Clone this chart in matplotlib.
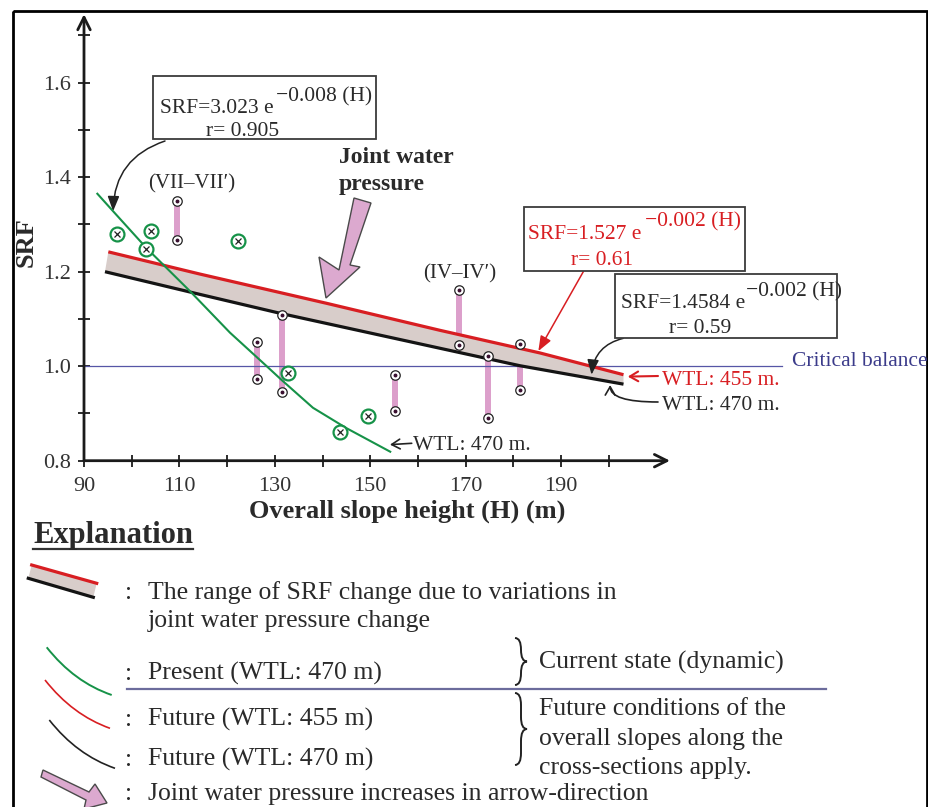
import numpy as np
import matplotlib.pyplot as plt
from matplotlib.patches import Rectangle, Polygon, PathPatch
from matplotlib.path import Path
from matplotlib.transforms import Affine2D
from matplotlib.lines import Line2D

W, H = 929, 807

# present state regression curve (WTL 470 m), SRF
present_fit_h = [92.8, 96.1, 103.1, 112.2, 120.6, 128.3, 131.3, 138.0, 145.0, 154.2]
present_fit_srf = [1.365, 1.328, 1.250, 1.159, 1.071, 1.000, 0.972, 0.912, 0.869, 0.819]

# future curves: WTL 455 m (upper) and WTL 470 m (lower)
future455_h = [95.1, 114.3, 140.9, 164.6, 185.6, 203.1]
future455_srf = [1.242, 1.195, 1.133, 1.076, 1.028, 0.982]
future470_h = [94.4, 114.3, 131.1, 164.6, 181.4, 203.1]
future470_srf = [1.200, 1.152, 1.112, 1.038, 1.001, 0.962]

# present state sections
present_h = [96.9, 103.1, 104.1, 122.2, 132.7, 143.7, 149.6]
present_srf = [1.279, 1.247, 1.286, 1.266, 0.986, 0.860, 0.894]

# future sections: SRF for both water table levels
pair_h = [109.4, 126.2, 131.6, 155.2, 168.7, 174.6, 181.3]
pair_top = [1.349, 1.051, 1.108, 0.981, 1.162, 1.021, 1.047]
pair_bot = [1.267, 0.972, 0.946, 0.905, 1.044, 0.891, 0.950]

x_ticks = list(range(90, 201, 10))
y_ticks = [0.8, 0.9, 1.0, 1.1, 1.2, 1.3, 1.4, 1.5, 1.6, 1.7]

TXT = '#2a2a2a'
RED = '#d81e22'
GREEN = '#169248'
PINK = '#dc9fcb'

plt.rcParams['font.family'] = ['Liberation Serif', 'DejaVu Serif']

fig = plt.figure(figsize=(W / 100, H / 100), dpi=100)
# image-pixel coordinates (origin top-left) for layout items
pix = Affine2D().scale(1 / W, -1 / H).translate(0, 1) + fig.transFigure

x0_px, y0_px = 84, 460.7
px_h, px_srf = 4.77, 472.5
xlim, ylim = (90, 215), (0.8, 1.75)
ax = fig.add_axes([x0_px / W, 1 - y0_px / H,
                   (xlim[1] - xlim[0]) * px_h / W,
                   (ylim[1] - ylim[0]) * px_srf / H])
ax.set_xlim(*xlim)
ax.set_ylim(*ylim)
ax.patch.set_visible(False)
for s in ax.spines.values():
    s.set_visible(False)

# axes with arrow heads
arr = dict(arrowstyle='->,head_length=0.9,head_width=0.45', lw=2, color='#1a1a1a',
           shrinkA=0, shrinkB=0)
ax.annotate('', xy=(212.85, 0.8), xytext=(90, 0.8), arrowprops=arr, annotation_clip=False)
ax.annotate('', xy=(90, 1.745), xytext=(90, 0.8), arrowprops=arr, annotation_clip=False)

ax.set_xticks(x_ticks)
ax.set_xticklabels([str(v) if (v - 90) % 20 == 0 else '' for v in x_ticks])
ax.set_yticks(y_ticks)
ax.set_yticklabels(['%.1f' % v if round(v * 10) % 2 == 0 else '' for v in y_ticks])
ax.tick_params(direction='inout', length=9, width=1.3, color='#1a1a1a',
               labelsize=16, labelcolor='#333333')
ax.tick_params(axis='x', pad=7)
ax.tick_params(axis='y', pad=5)

ax.set_xlabel('Overall slope height (H) (m)', fontsize=19, fontweight='bold', color=TXT)
ax.xaxis.set_label_coords((407 - x0_px) / ((xlim[1] - xlim[0]) * px_h), (y0_px - 500) / ((ylim[1] - ylim[0]) * px_srf))
ax.set_ylabel('SRF', fontsize=19, fontweight='bold', color=TXT)
ax.yaxis.set_label_coords((38 - x0_px) / ((xlim[1] - xlim[0]) * px_h), (y0_px - 242) / ((ylim[1] - ylim[0]) * px_srf))

# critical balance
ax.plot([90, 236.3], [1.0, 1.0], color='#5656a6', lw=0.9, clip_on=False, zorder=2)

# pink ranges between the two future states
ax.vlines(pair_h, pair_bot, pair_top, colors=PINK, lw=4.3, zorder=1)

# band of SRF change
band_x = future455_h + future470_h[::-1]
band_y = future455_srf + future470_srf[::-1]
ax.fill(band_x, band_y, color='#d8cdca', lw=0, zorder=2)
ax.plot(future455_h, future455_srf, color=RED, lw=2.3, zorder=3, solid_capstyle='butt')
ax.plot(future470_h, future470_srf, color='#141414', lw=2.3, zorder=3, solid_capstyle='butt')

ax.plot(present_fit_h, present_fit_srf, color=GREEN, lw=1.5, zorder=4)

for ys in (pair_top, pair_bot):
    ax.plot(pair_h, ys, 'o', ms=6.8, mfc='white', mec='#222222', mew=0.9, zorder=5)
    ax.plot(pair_h, ys, 'o', ms=1.8, color='#3a1030', zorder=6)

ax.plot(present_h, present_srf, 'o', ms=10, mfc='white', mec=GREEN, mew=1.6, zorder=5)
ax.plot(present_h, present_srf, 'x', ms=4, color='#222222', mew=0.9, zorder=6)


def ftext(x, y, s, **kw):
    kw.setdefault('color', TXT)
    kw.setdefault('va', 'baseline')
    fig.text(x, y, s, transform=pix, **kw)


# equation boxes
for (bx, by, bw, bh) in [(153, 76, 223, 63), (524, 207, 221, 64), (615, 274, 222, 64)]:
    fig.add_artist(Rectangle((bx, by), bw, bh, transform=pix, fc='white', ec='#3c3c3c', lw=1.3))

ftext(160, 113, 'SRF=3.023 e', fontsize=15.5)
ftext(276, 101, '\u22120.008 (H)', fontsize=15.5)
ftext(243, 136, 'r= 0.905', fontsize=15.5, ha='center')

ftext(528, 239, 'SRF=1.527 e', fontsize=15.5, color=RED)
ftext(645, 226, '\u22120.002 (H)', fontsize=15.5, color=RED)
ftext(602, 265, 'r= 0.61', fontsize=15.5, color=RED, ha='center')

ftext(621, 308, 'SRF=1.4584 e', fontsize=15.5)
ftext(746, 296, '\u22120.002 (H)', fontsize=15.5)
ftext(700, 333, 'r= 0.59', fontsize=15.5, ha='center')

ftext(792, 366, 'Critical balance', fontsize=15.5, color='#3b3b8a')
ftext(662, 385, 'WTL: 455 m.', fontsize=15.5, color=RED)
ftext(662, 410, 'WTL: 470 m.', fontsize=15.5)
ftext(413, 450, 'WTL: 470 m.', fontsize=15.5)
ftext(148, 188, '(VII\u2013VII\u2032)', fontsize=15)
ftext(423, 278, '(IV\u2013IV\u2032)', fontsize=15)
ftext(339, 163, 'Joint water', fontsize=17, fontweight='bold')
ftext(339, 190, 'pressure', fontsize=17, fontweight='bold')

# leader arrows
filled = '-|>,head_length=0.9,head_width=0.35'
ax.annotate('', xy=(96.1, 1.328), xytext=(165, 141), textcoords=pix,
            arrowprops=dict(arrowstyle=filled, connectionstyle='arc3,rad=0.35',
                            color='#222222', lw=1.1, shrinkA=0, shrinkB=0))
ax.annotate('', xy=(185.25, 1.032), xytext=(583.3, 271.7), textcoords=pix,
            arrowprops=dict(arrowstyle=filled, color=RED, lw=1.1, shrinkA=0, shrinkB=0))
ax.annotate('', xy=(196.4, 0.982), xytext=(623.3, 338.3), textcoords=pix,
            arrowprops=dict(arrowstyle=filled, connectionstyle='arc3,rad=0.35',
                            color='#222222', lw=1.1, shrinkA=0, shrinkB=0))
opn = '->,head_length=0.6,head_width=0.35'
ax.annotate('', xy=(204.0, 0.978), xytext=(658, 376), textcoords=pix,
            arrowprops=dict(arrowstyle=opn, color=RED, lw=1.5, shrinkA=0, shrinkB=0))
ax.annotate('', xy=(200.3, 0.960), xytext=(658, 402), textcoords=pix,
            arrowprops=dict(arrowstyle=opn, connectionstyle='angle3,angleA=0,angleB=90',
                            color='#222222', lw=1.2, shrinkA=0, shrinkB=0))
ax.annotate('', xy=(154.15, 0.834), xytext=(411.7, 443.3), textcoords=pix,
            arrowprops=dict(arrowstyle=opn, color='#222222', lw=1.2, shrinkA=0, shrinkB=0))

# joint water pressure arrow
fig.add_artist(Polygon([(354, 198), (371, 203), (350, 265), (360, 267), (326, 298),
                        (319, 257), (339, 270)], closed=True, transform=pix,
                       fc='#dca9cf', ec='#4a4a4a', lw=1.0))

# explanation
ftext(33, 543, 'Explanation', fontsize=22, fontweight='bold')
fig.add_artist(Line2D([33, 193], [549, 549], transform=pix, color='#333333', lw=1.6))

fig.add_artist(Polygon([(31.7, 565), (96.7, 583.3), (93.3, 597.3), (28.3, 578.3)],
                       transform=pix, fc='#d8cdca', lw=0))
fig.add_artist(Line2D([31.7, 96.7], [565, 583.3], transform=pix, color=RED, lw=2.3))
fig.add_artist(Line2D([28.3, 93.3], [578.3, 597.3], transform=pix, color='#141414', lw=2.3))


def swatch(p0, c, p2, color, lw):
    path = Path([p0, c, p2], [Path.MOVETO, Path.CURVE3, Path.CURVE3])
    fig.add_artist(PathPatch(path, transform=pix, fill=False, ec=color, lw=lw))


swatch((46.7, 647.3), (74.2, 682.2), (111.7, 695), GREEN, 1.4)
swatch((45, 680), (72.5, 715), (110, 728.3), RED, 1.2)
swatch((49.3, 720), (76.8, 755), (115, 768.3), '#222222', 1.2)

fig.add_artist(Polygon([(43, 770), (89, 792), (95, 784), (107, 803), (84, 809), (86, 800),
                        (41, 777)], closed=True, transform=pix,
                       fc='#dca9cf', ec='#4a4a4a', lw=1.0))

LF = 18.5
for yb in (599, 680, 726, 766, 800):
    ftext(125, yb, ':', fontsize=LF)
ftext(148, 599, 'The range of SRF change due to variations in', fontsize=LF)
ftext(148, 627, 'joint water pressure change', fontsize=LF)
ftext(148, 680, 'Present (WTL: 470 m)', fontsize=LF)
ftext(148, 726, 'Future (WTL: 455 m)', fontsize=LF)
ftext(148, 766, 'Future (WTL: 470 m)', fontsize=LF)
ftext(148, 800, 'Joint water pressure increases in arrow-direction', fontsize=LF)

fig.add_artist(Line2D([127.5, 826], [689, 689], transform=pix, color='#6c6c9c', lw=1.6))


def brace(x, y0, y1, w):
    ym = (y0 + y1) / 2
    r = min(w, (y1 - y0) / 4)
    xm = x + w / 2
    verts = [(x, y0), (xm, y0), (xm, y0 + r), (xm, ym - r), (xm, ym), (x + w, ym),
             (xm, ym), (xm, ym + r), (xm, y1 - r), (xm, y1), (x, y1)]
    codes = [Path.MOVETO, Path.CURVE3, Path.CURVE3, Path.LINETO, Path.CURVE3, Path.CURVE3,
             Path.CURVE3, Path.CURVE3, Path.LINETO, Path.CURVE3, Path.CURVE3]
    fig.add_artist(PathPatch(Path(verts, codes), transform=pix, fill=False, ec='#222222', lw=1.4))


brace(515, 638, 685, 12)
brace(515, 693, 765, 12)
ftext(539, 669, 'Current state (dynamic)', fontsize=LF)
ftext(539, 715, 'Future conditions of the', fontsize=LF)
ftext(539, 745, 'overall slopes along the', fontsize=LF)
ftext(539, 774, 'cross-sections apply.', fontsize=LF)

# outer frame
fig.add_artist(Rectangle((13, 11), 914, 820, transform=pix, fill=False, ec='black', lw=2.0))

fig.savefig('out.png', dpi=100)
